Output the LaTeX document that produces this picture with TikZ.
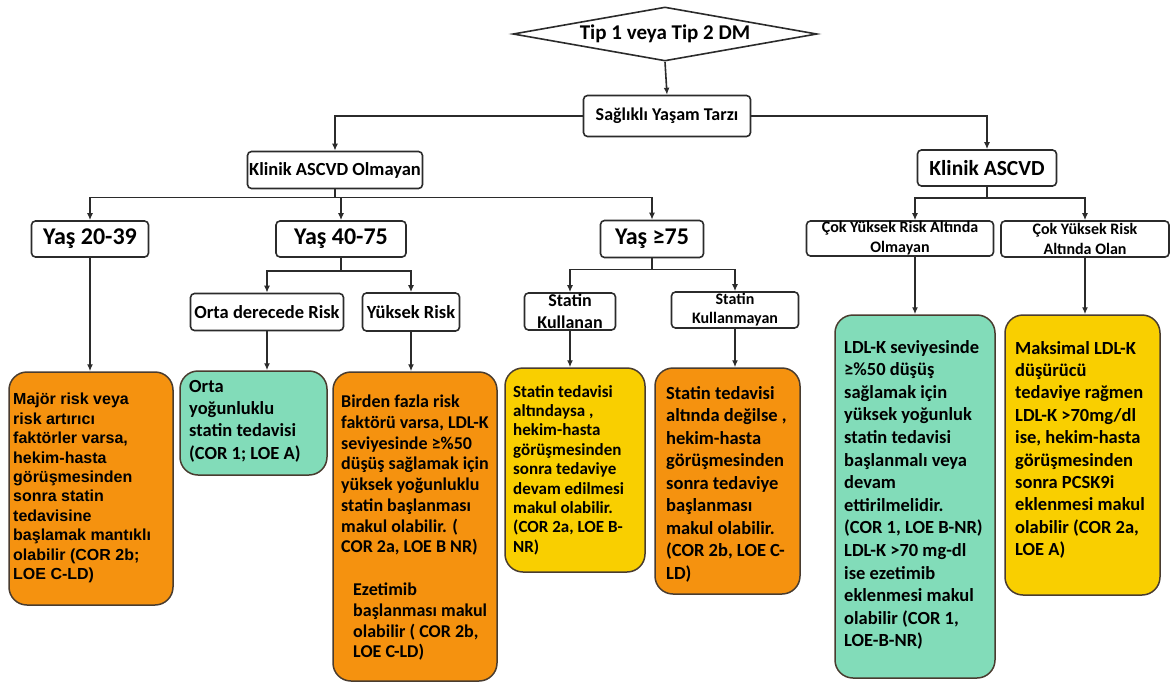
\documentclass[tikz,border=0pt]{standalone}
\usepackage{fontspec}
\setmainfont{Carlito}
\newfontfamily\arialfont{Liberation Sans}
\usetikzlibrary{shapes.geometric,arrows.meta}

\definecolor{turuncu}{HTML}{F5920F}
\definecolor{yesil}{HTML}{82DCB9}
\definecolor{sari}{HTML}{F9CF00}
\definecolor{cizgi}{HTML}{2B2B2B}

\begin{document}
\begin{tikzpicture}[x=1pt,y=-1pt,
    kutu/.style={draw=cizgi, line width=1.6pt, rounded corners=4pt, fill=white, inner sep=0pt, align=center, font=\bfseries\fontsize{18.5}{22}\selectfont},
    sonuc/.style={draw=cizgi!80!brown, line width=1.5pt, rounded corners=18pt},
    yazi/.style={anchor=north west, align=left, inner sep=0pt},
    ok/.style={-{Latex[length=7pt,width=6pt]}, line width=1.6pt, draw=cizgi}]
    \useasboundingbox (0,0) rectangle (1173,686);

    % ust kisim
    \node[draw=cizgi, line width=1.6pt, diamond, aspect=5.6, minimum width=304, minimum height=54, inner sep=0pt, font=\bfseries\fontsize{21}{24}\selectfont] (tip) at (665,34) {Tip 1 veya Tip 2 DM};
    \node[kutu, minimum width=167, minimum height=41, font=\bfseries\fontsize{18}{22}\selectfont] (yasam) at (667,116) {Sağlıklı Yaşam Tarzı};
    \node[kutu, minimum width=175, minimum height=37] (olmayan) at (335,170) {Klinik ASCVD Olmayan};
    \node[kutu, minimum width=139, minimum height=36, font=\bfseries\fontsize{21.5}{24}\selectfont] (ascvd) at (987,168) {Klinik ASCVD};

    % yas gruplari
    \node[kutu, minimum width=117, minimum height=36, font=\bfseries\fontsize{24}{28}\selectfont] (yas1) at (90,239) {Yaş 20-39};
    \node[kutu, minimum width=130, minimum height=36, font=\bfseries\fontsize{24}{28}\selectfont] (yas2) at (341,239) {Yaş 40-75};
    \node[kutu, minimum width=103, minimum height=37, font=\bfseries\fontsize{24}{28}\selectfont] (yas3) at (652,239) {Yaş ≥75};
    \node[kutu, minimum width=153, minimum height=37] (orta) at (267,312) {Orta derecede Risk};
    \node[kutu, minimum width=97, minimum height=38] (yuksek) at (411,312) {Yüksek Risk};
    \node[kutu, minimum width=91, minimum height=37, font=\bfseries\fontsize{18}{22}\selectfont] (kullanan) at (570,311.5) {Statin\\Kullanan};
    \node[kutu, minimum width=127, minimum height=36, font=\bfseries\fontsize{16}{19}\selectfont] (kullanmayan) at (735,310) {Statin\\Kullanmayan};
    \node[kutu, minimum width=187, minimum height=35, font=\bfseries\fontsize{16}{20}\selectfont] (cokdegil) at (900,238.5) {Çok Yüksek Risk Altında\\Olmayan};
    \node[kutu, minimum width=168, minimum height=36, font=\bfseries\fontsize{16}{20}\selectfont] (cokolan) at (1085,239) {Çok Yüksek Risk\\Altında Olan};

    % sonuc kutulari
    \node[sonuc, fill=turuncu, minimum width=164, minimum height=233] (s1) at (91,488.5) {};
    \node[sonuc, fill=yesil, minimum width=147, minimum height=104] (s2) at (253.5,423) {};
    \node[sonuc, fill=turuncu, minimum width=164, minimum height=309] (s3) at (415,526.5) {};
    \node[sonuc, fill=sari, minimum width=140, minimum height=204] (s4) at (575,470) {};
    \node[sonuc, fill=turuncu, minimum width=145, minimum height=226] (s5) at (727.5,481) {};
    \node[sonuc, fill=yesil, minimum width=160, minimum height=363] (s6) at (915,496.5) {};
    \node[sonuc, fill=sari, minimum width=155, minimum height=280] (s7) at (1082.5,455) {};

    \node[yazi, font=\arialfont\bfseries\fontsize{16}{19.4}\selectfont] (t1) at (13,393) {Majör risk veya\\risk artırıcı\\faktörler varsa,\\hekim-hasta\\görüşmesinden\\sonra statin\\tedavisine\\başlamak mantıklı\\olabilir (COR 2b;\\LOE C-LD)};
    \node[yazi, font=\bfseries\fontsize{18.5}{22.3}\selectfont] (t2) at (189,380) {Orta\\yoğunluklu\\statin tedavisi\\(COR 1; LOE A)};
    \node[yazi, font=\bfseries\fontsize{18}{20.7}\selectfont] (t3) at (341,395) {Birden fazla risk\\faktörü varsa, LDL-K\\seviyesinde ≥\%50\\düşüş sağlamak için\\yüksek yoğunluklu\\statin başlanması\\makul olabilir. (\\COR 2a, LOE B NR)};
    \node[yazi, font=\bfseries\fontsize{18}{20.7}\selectfont] (t3b) at (353,583) {Ezetimib\\başlanması makul\\olabilir ( COR 2b,\\LOE C-LD)};
    \node[yazi, font=\bfseries\fontsize{17}{19.4}\selectfont] (t4) at (513,385) {Statin tedavisi\\altındaysa ,\\hekim-hasta\\görüşmesinden\\sonra tedaviye\\devam edilmesi\\makul olabilir.\\(COR 2a, LOE B-\\NR)};
    \node[yazi, font=\bfseries\fontsize{18.5}{22.5}\selectfont] (t5) at (666,386) {Statin tedavisi\\altında değilse ,\\hekim-hasta\\görüşmesinden\\sonra tedaviye\\başlanması\\makul olabilir.\\(COR 2b, LOE C-\\LD)};
    \node[yazi, font=\bfseries\fontsize{18.5}{22.6}\selectfont] (t6) at (844,340) {LDL-K seviyesinde\\≥\%50 düşüş\\sağlamak için\\yüksek yoğunluk\\statin tedavisi\\başlanmalı veya\\devam\\ettirilmelidir.\\(COR 1, LOE B-NR)\\LDL-K >70 mg-dl\\ise ezetimib\\eklenmesi makul\\olabilir (COR 1,\\LOE-B-NR)};
    \node[yazi, font=\bfseries\fontsize{18.5}{22.4}\selectfont] (t7) at (1015,341) {Maksimal LDL-K\\düşürücü\\tedaviye rağmen\\LDL-K >70mg/dl\\ise, hekim-hasta\\görüşmesinden\\sonra PCSK9i\\eklenmesi makul\\olabilir (COR 2a,\\LOE A)};

    % baglantilar
    \draw[ok] (tip.south) -- (yasam.north);
    \draw[ok] (yasam.west) -| (olmayan.north);
    \draw[ok] (yasam.east) -| (ascvd.north);
    \draw[ok, -] (olmayan.south) -- ++(0,8) coordinate (d1);
    \foreach \hedef in {yas1,yas2,yas3}
        \draw[ok] (d1) -| (\hedef.north);
    \draw[ok, -] (yas2.south) -- ++(0,13) coordinate (d2);
    \foreach \hedef in {orta,yuksek}
        \draw[ok] (d2) -| (\hedef.north);
    \draw[ok, -] (yas3.south) -- ++(0,11) coordinate (d3);
    \foreach \hedef in {kullanan,kullanmayan}
        \draw[ok] (d3) -| (\hedef.north);
    \draw[ok, -] (ascvd.south) -- ++(0,11) coordinate (d4);
    \draw[ok] (d4) -| (cokdegil.north -| s6.north);
    \draw[ok] (d4) -| (cokolan.north);
    \foreach \ust/\alt in {yas1/s1, orta/s2, yuksek/s3, kullanan/s4, kullanmayan/s5, cokolan/s7}
        \draw[ok] (\ust.south) -- (\ust.south |- \alt.north);
    \draw[ok] (cokdegil.south -| s6.north) -- (s6.north);
\end{tikzpicture}
\end{document}
